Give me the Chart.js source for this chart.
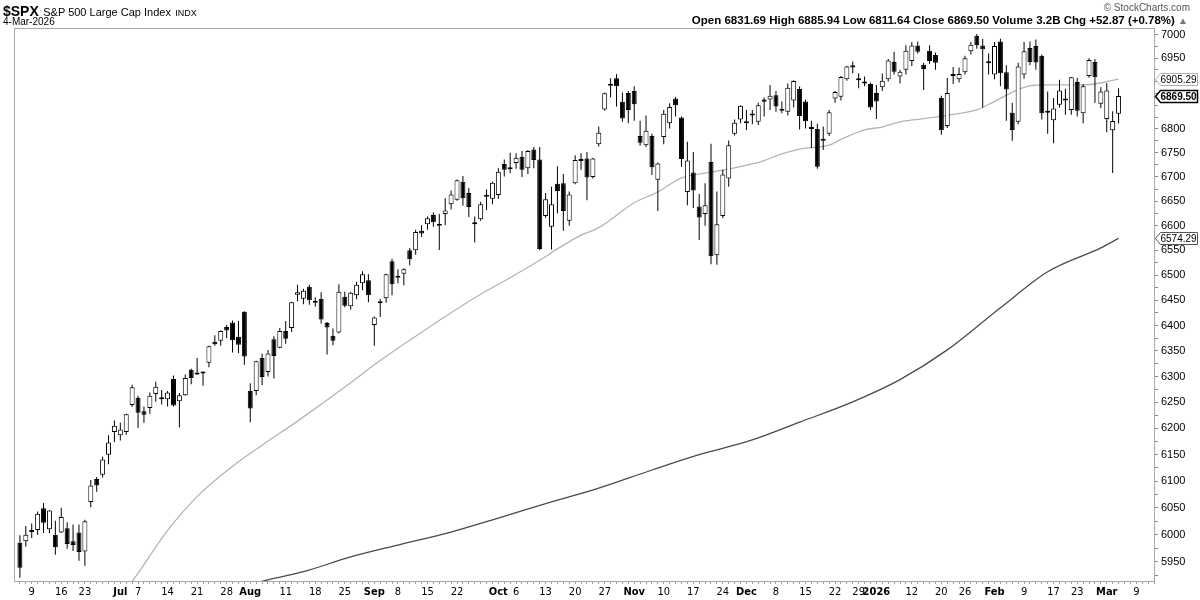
<!DOCTYPE html>
<html>
<head>
<meta charset="utf-8">
<title>$SPX daily</title>
<script src="https://cdn.jsdelivr.net/npm/chart.js@4.4.1/dist/chart.umd.min.js"></script>
<style>
  body { margin: 0; background: #fff; }
  #wrap { position: relative; width: 1200px; height: 600px; overflow: hidden; }
  #spxChart { position: absolute; left: 0; top: 0; }
  .hdr { position: absolute; font-family: "Liberation Sans", Arial, sans-serif; color: #000; white-space: nowrap; line-height: 1; }
</style>
</head>
<body>
<div id="wrap">
  <canvas id="spxChart" width="1200" height="600"></canvas>
  <div class="hdr" style="left:3px;top:3px;"><span style="font-weight:bold;font-size:14px;">$SPX</span> <span style="font-size:11px;">S&amp;P 500 Large Cap Index</span> <span style="font-size:9px;">INDX</span></div>
  <div class="hdr" style="left:3px;top:17px;font-size:10px;">4-Mar-2026</div>
  <div class="hdr" style="right:10px;top:3px;font-size:10px;color:#555;">© StockCharts.com</div>
  <div class="hdr" style="right:12px;top:15px;font-size:11.5px;font-weight:bold;">Open 6831.69 High 6885.94 Low 6811.64 Close 6869.50 Volume 3.2B Chg +52.87 (+0.78%) <span style="color:#777;font-size:10px;">▲</span></div>
</div>
<script>
// daily candles, 5-Jun-2025 .. 4-Mar-2026 (index 0 = 5-Jun)
const openPrices = [
  5985, 5988, 6005, 6009, 6049, 6010, 6000, 6004, 6012, 5988,
  6004, 5969, 6061, 6104, 6112, 6150, 6193, 6187, 6193, 6245,
  6259, 6233, 6239, 6266, 6256, 6256, 6295, 6252, 6264, 6313,
  6304, 6306, 6327, 6368, 6370, 6397, 6406, 6378, 6427, 6272,
  6272, 6336, 6309, 6373, 6356, 6389, 6395, 6461, 6453, 6477,
  6445, 6453, 6405, 6380, 6386, 6457, 6438, 6460, 6484, 6490,
  6401, 6444, 6454, 6528, 6498, 6503, 6550, 6550, 6590, 6603,
  6622, 6604, 6624, 6644, 6653, 6690, 6667, 6606, 6613, 6659,
  6655, 6663, 6727, 6719, 6729, 6742, 6718, 6757, 6736, 6620,
  6598, 6686, 6687, 6610, 6687, 6733, 6738, 6700, 6768, 6841,
  6894, 6907, 6857, 6876, 6880, 6785, 6766, 6785, 6694, 6783,
  6812, 6864, 6824, 6669, 6709, 6639, 6624, 6731, 6540, 6620,
  6697, 6790, 6820, 6812, 6828, 6815, 6862, 6862, 6871, 6838,
  6836, 6860, 6884, 6858, 6801, 6800, 6776, 6790, 6864, 6868,
  6905, 6935, 6906, 6899, 6895, 6876, 6888, 6905, 6942, 6911,
  6925, 6944, 6977, 6936, 6966, 6957, 6865, 6806, 6914, 6905,
  6920, 6965, 6998, 6977, 6943, 6915, 6986, 6920, 6834, 6815,
  6915, 6972, 6976, 6955, 6836, 6818, 6851, 6862, 6840, 6899,
  6833, 6912, 6942, 6853, 6821, 6797, 6831.69
];
const highPrices = [
  5999, 6016, 6021, 6043, 6059, 6046, 6026, 6050, 6023, 6019,
  6019, 6028, 6102, 6108, 6146, 6187, 6215, 6211, 6228, 6284,
  6263, 6242, 6269, 6290, 6274, 6272, 6302, 6268, 6304, 6315,
  6336, 6310, 6360, 6381, 6390, 6401, 6410, 6409, 6428, 6287,
  6331, 6345, 6352, 6379, 6395, 6409, 6447, 6481, 6473, 6481,
  6456, 6466, 6407, 6394, 6482, 6467, 6467, 6487, 6508, 6502,
  6418, 6453, 6503, 6533, 6512, 6514, 6555, 6592, 6601, 6619,
  6627, 6624, 6656, 6672, 6695, 6702, 6677, 6619, 6649, 6674,
  6690, 6718, 6736, 6750, 6749, 6754, 6756, 6762, 6762, 6667,
  6680, 6722, 6706, 6670, 6745, 6749, 6752, 6740, 6805, 6877,
  6907, 6916, 6877, 6880, 6890, 6817, 6828, 6790, 6730, 6840,
  6854, 6868, 6826, 6773, 6752, 6665, 6687, 6769, 6670, 6715,
  6776, 6820, 6850, 6840, 6840, 6855, 6866, 6893, 6880, 6858,
  6896, 6903, 6890, 6862, 6817, 6811, 6805, 6840, 6880, 6912,
  6934, 6943, 6918, 6911, 6898, 6893, 6917, 6948, 6964, 6925,
  6978, 6985, 6986, 6940, 6978, 6962, 6870, 6908, 6931, 6930,
  6955, 6985, 7002, 6992, 6960, 6985, 6992, 6935, 6855, 6940,
  6985, 6986, 6990, 6958, 6879, 6865, 6904, 6885, 6910, 6908,
  6895, 6950, 6948, 6888, 6897, 6837, 6885.94
];
const lowPrices = [
  5921, 5978, 5994, 6000, 6003, 6003, 5963, 6003, 5974, 5970,
  5952, 5943, 6051, 6080, 6107, 6132, 6174, 6177, 6188, 6241,
  6201, 6211, 6228, 6251, 6246, 6242, 6242, 6202, 6263, 6285,
  6303, 6282, 6318, 6360, 6360, 6375, 6347, 6346, 6323, 6212,
  6264, 6283, 6300, 6296, 6355, 6364, 6387, 6448, 6442, 6441,
  6437, 6404, 6343, 6361, 6384, 6436, 6431, 6452, 6470, 6446,
  6360, 6417, 6445, 6460, 6484, 6480, 6520, 6541, 6577, 6592,
  6598, 6551, 6601, 6633, 6651, 6641, 6618, 6566, 6610, 6632,
  6644, 6655, 6701, 6708, 6717, 6700, 6706, 6718, 6550, 6616,
  6552, 6625, 6590, 6600, 6685, 6715, 6652, 6697, 6763, 6838,
  6866, 6847, 6815, 6812, 6817, 6765, 6762, 6704, 6630, 6768,
  6801, 6826, 6721, 6642, 6636, 6571, 6600, 6522, 6521, 6615,
  6680, 6786, 6812, 6798, 6810, 6808, 6826, 6840, 6836, 6833,
  6828, 6845, 6799, 6801, 6760, 6717, 6756, 6785, 6855, 6860,
  6902, 6918, 6886, 6890, 6840, 6821, 6880, 6900, 6915, 6896,
  6915, 6933, 6960, 6882, 6938, 6925, 6788, 6802, 6895, 6898,
  6915, 6958, 6970, 6845, 6915, 6905, 6890, 6817, 6775, 6810,
  6906, 6935, 6925, 6820, 6790, 6770, 6845, 6830, 6830, 6826,
  6812, 6908, 6855, 6844, 6793, 6708, 6811.64
];
const closePrices = [
  5939, 6000, 6006, 6039, 6022, 6045, 5977, 6033, 5983, 5981,
  5968, 6025, 6092, 6092, 6141, 6173, 6205, 6198, 6227, 6279,
  6230, 6226, 6263, 6280, 6260, 6269, 6244, 6264, 6297, 6297,
  6306, 6309, 6359, 6363, 6389, 6390, 6371, 6362, 6339, 6238,
  6330, 6299, 6345, 6340, 6389, 6374, 6446, 6466, 6469, 6450,
  6449, 6412, 6396, 6370, 6467, 6439, 6465, 6481, 6502, 6460,
  6416, 6448, 6502, 6482, 6495, 6512, 6532, 6587, 6584, 6615,
  6607, 6600, 6631, 6664, 6693, 6656, 6638, 6603, 6644, 6661,
  6688, 6711, 6715, 6716, 6740, 6715, 6754, 6735, 6553, 6654,
  6644, 6671, 6630, 6664, 6735, 6736, 6699, 6738, 6792, 6875,
  6891, 6890, 6822, 6840, 6852, 6771, 6796, 6720, 6728, 6832,
  6846, 6850, 6737, 6734, 6672, 6617, 6642, 6538, 6603, 6705,
  6766, 6813, 6849, 6813, 6829, 6850, 6857, 6870, 6847, 6840,
  6887, 6901, 6827, 6816, 6800, 6721, 6775, 6835, 6878, 6910,
  6932, 6930, 6903, 6896, 6845, 6858, 6902, 6945, 6921, 6921,
  6966, 6977, 6964, 6927, 6944, 6940, 6797, 6876, 6912, 6916,
  6950, 6979, 6978, 6969, 6939, 6976, 6918, 6883, 6798, 6932,
  6965, 6942, 6941, 6833, 6834, 6843, 6881, 6860, 6909, 6838,
  6890, 6946, 6909, 6879, 6881, 6816.63, 6869.50
];

// moving averages (candle index -> value)
const ma50Idx = [16, 19, 25, 30, 36, 41, 47, 56, 60, 66, 71, 78, 83, 88, 91, 95, 98, 104, 108, 112, 117, 121, 124, 126, 129, 132, 137, 139, 143, 146, 149, 154, 157, 162, 165, 169, 171, 174, 180, 183, 186];
const ma50Val = [5875, 5914, 6008, 6071, 6128, 6168, 6214, 6288, 6323, 6371, 6410, 6462, 6495, 6530, 6553, 6581, 6596, 6647, 6669, 6698, 6710, 6719, 6727, 6734, 6748, 6758, 6766, 6778, 6798, 6804, 6815, 6823, 6829, 6840, 6858, 6883, 6891, 6893, 6893, 6897, 6905.29];
const ma200Idx = [35, 42, 48, 56, 64, 73, 81, 90, 98, 107, 115, 124, 132, 141, 149, 157, 166, 174, 183, 186];
const ma200Val = [5898, 5917, 5932, 5959, 5981, 6005, 6031, 6061, 6087, 6121, 6150, 6178, 6212, 6251, 6294, 6352, 6435, 6507, 6555, 6574.29];

// week / month labels on the date axis
const tickIdx = [2, 7, 11, 17, 20, 25, 30, 35, 39, 45, 50, 55, 60, 64, 69, 74, 81, 84, 89, 94, 99, 104, 109, 114, 119, 123, 128, 133, 138, 142, 145, 151, 156, 160, 165, 170, 175, 179, 184, 189];
const tickText = ['9', '16', '23', 'Jul', '7', '14', '21', '28', 'Aug', '11', '18', '25', 'Sep', '8', '15', '22', 'Oct', '6', '13', '20', '27', 'Nov', '10', '17', '24', 'Dec', '8', '15', '22', '29', '2026', '12', '20', '26', 'Feb', '9', '17', '23', 'Mar', '9'];
const monthText = ['Jul', 'Aug', 'Sep', 'Oct', 'Nov', 'Dec', '2026', 'Feb', 'Mar'];

const narrowFont = '"Liberation Sans Narrow", "DejaVu Sans Condensed", "Liberation Sans", sans-serif';
const axisFont = '"Liberation Sans", Arial, sans-serif';

document.addEventListener('DOMContentLoaded', function () {
    const last = closePrices.length - 1;
    const boxes = [
        { value: ma50Val[ma50Val.length - 1], color: '#b0b0b0', width: 1, bold: false },
        { value: closePrices[last], color: '#000', width: 1.5, bold: true },
        { value: ma200Val[ma200Val.length - 1], color: '#555', width: 1, bold: false }
    ];

    function labelAt(v) {
        const k = tickIdx.indexOf(v);
        return k >= 0 ? tickText[k] : '';
    }

    const frame = {
        id: 'frame',
        afterDatasetsDraw(chart) {
            const a = chart.chartArea, c = chart.ctx;
            c.save();
            c.strokeStyle = '#a8a8a8';
            c.lineWidth = 1;
            c.strokeRect(a.left + 0.5, a.top + 0.5, a.right - a.left, a.bottom - a.top);
            c.restore();
        }
    };

    const priceBoxes = {
        id: 'priceBoxes',
        afterDraw(chart) {
            const ys = chart.scales.y, c = chart.ctx;
            const x0 = chart.chartArea.right + 1.5;
            c.save();
            boxes.forEach(function (b) {
                const py = Math.round(ys.getPixelForValue(b.value)) + 0.5;
                c.beginPath();
                c.moveTo(x0, py);
                c.lineTo(x0 + 5, py - 6);
                c.lineTo(1197.5, py - 6);
                c.lineTo(1197.5, py + 6);
                c.lineTo(x0 + 5, py + 6);
                c.closePath();
                c.fillStyle = '#fff';
                c.fill();
                c.strokeStyle = b.color;
                c.lineWidth = b.width;
                c.stroke();
                c.fillStyle = '#000';
                c.font = (b.bold ? 'bold ' : '') + '10px ' + axisFont;
                c.textBaseline = 'middle';
                c.textAlign = 'left';
                c.fillText(b.value.toFixed(2), x0 + 5, py + 0.5);
            });
            c.restore();
        }
    };

    const idx = closePrices.map(function (_, i) { return i; });

    const ctx = document.getElementById('spxChart').getContext('2d');
    const spxChart = new Chart(ctx, {
        type: 'bar',
        data: {
            datasets: [{
                label: 'Body',
                data: idx.map(i => ({ x: i, y: [openPrices[i], closePrices[i]] })),
                backgroundColor: idx.map(i => closePrices[i] >= openPrices[i] ? '#ffffff' : '#000000'),
                borderColor: '#000',
                borderWidth: 1,
                borderSkipped: false,
                barThickness: 5,
                minBarLength: 2,
                inflateAmount: 0,
                grouped: false,
                order: 0
            }, {
                label: 'Range',
                data: idx.map(i => ({ x: i, y: [lowPrices[i], highPrices[i]] })),
                backgroundColor: '#000',
                borderWidth: 0,
                barThickness: 1,
                minBarLength: 1,
                inflateAmount: 0,
                grouped: false,
                order: 1
            }, {
                type: 'line',
                label: 'MA(50)',
                data: ma50Idx.map((d, k) => ({ x: d, y: ma50Val[k] })),
                borderColor: '#b4b4b4',
                borderWidth: 1.3,
                pointRadius: 0,
                cubicInterpolationMode: 'monotone',
                order: 2
            }, {
                type: 'line',
                label: 'MA(200)',
                data: ma200Idx.map((d, k) => ({ x: d, y: ma200Val[k] })),
                borderColor: '#4a4a4a',
                borderWidth: 1.3,
                pointRadius: 0,
                cubicInterpolationMode: 'monotone',
                order: 3
            }]
        },
        options: {
            responsive: false,
            animation: false,
            devicePixelRatio: 1,
            layout: { padding: { left: 14, top: 28, right: 0, bottom: 0 } },
            plugins: {
                legend: { display: false },
                tooltip: { enabled: false }
            },
            scales: {
                x: {
                    type: 'linear',
                    min: -1,
                    max: 192,
                    offset: false,
                    border: { display: false },
                    grid: { offset: false, drawOnChartArea: false, drawTicks: true, tickLength: 3, color: '#9a9a9a' },
                    afterBuildTicks: function (s) {
                        const t = [];
                        for (let i = 0; i <= 192; i++) t.push({ value: i });
                        s.ticks = t;
                    },
                    afterFit: function (s) { s.height = 19; },
                    ticks: {
                        autoSkip: false,
                        maxRotation: 0,
                        padding: 2,
                        color: '#000',
                        callback: function (v) { return labelAt(v); },
                        font: function (context) {
                            const lab = context.tick ? labelAt(context.tick.value) : '';
                            return { family: narrowFont, size: 11, weight: monthText.indexOf(lab) >= 0 ? 'bold' : 'normal' };
                        }
                    }
                },
                y: {
                    type: 'logarithmic',
                    position: 'right',
                    min: 5915,
                    max: 7015,
                    border: { display: false },
                    grid: { drawOnChartArea: false, drawTicks: true, tickLength: 4, color: '#888' },
                    afterBuildTicks: function (s) {
                        const t = [];
                        for (let v = 5925; v <= 7000; v += 25) t.push({ value: v });
                        s.ticks = t;
                    },
                    afterFit: function (s) { s.width = 46; },
                    ticks: {
                        autoSkip: false,
                        padding: 3,
                        color: '#000',
                        font: { family: axisFont, size: 11 },
                        callback: function (v) {
                            if (v % 50 !== 0) return '';
                            for (const b of boxes) {
                                if (Math.abs(Math.log(v / b.value)) < 0.0035) return '';
                            }
                            return String(v);
                        }
                    }
                }
            }
        },
        plugins: [frame, priceBoxes]
    });
});
</script>
</body>
</html>
